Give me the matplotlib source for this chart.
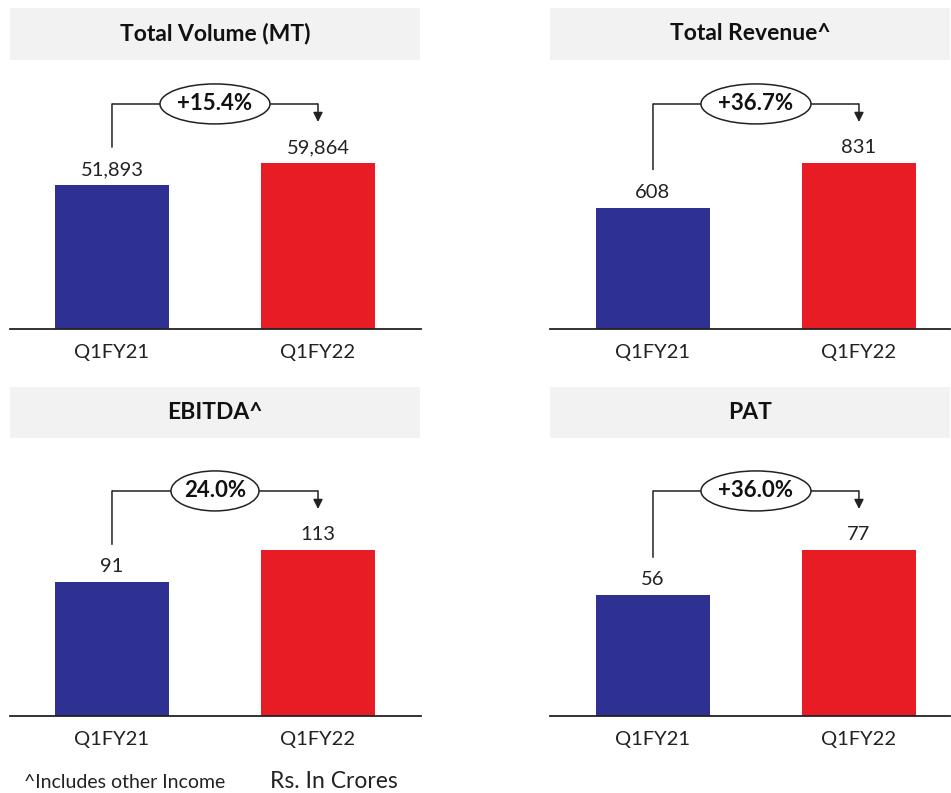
import matplotlib
matplotlib.use("Agg")
import matplotlib.pyplot as plt
from matplotlib.patches import Rectangle, Ellipse
from matplotlib.transforms import offset_copy

plt.rcParams['font.family'] = ['Lato', 'DejaVu Sans']

periods = ["Q1FY21", "Q1FY22"]
titles = ["Total Volume (MT)", "Total Revenue^", "EBITDA^", "PAT"]
volume = [51893, 59864]
revenue = [608, 831]
ebitda = [91, 113]
pat = [56, 77]
growth_labels = ["+15.4%", "+36.7%", "24.0%", "+36.0%"]
series = [volume, revenue, ebitda, pat]

BLUE = "#2e3192"
RED = "#e81c24"
W, H = 951, 793

fig = plt.figure(figsize=(W / 100, H / 100), dpi=100)

# panel geometry in pixels: (axes left, axes right, baseline y, title box x0, x1, y0, y1, xlim)
panels = [
    (10, 421, 329, 10, 420, 8, 60, (-0.495, 1.5)),
    (550, 950, 329, 550, 950, 8, 60, (-0.5, 1.442)),
    (10, 421, 716, 10, 420, 387, 438, (-0.495, 1.5)),
    (550, 950, 716, 550, 950, 387, 438, (-0.5, 1.442)),
]
AX_H = 259

for (x0, x1, base, tx0, tx1, ty0, ty1, xl), title, vals, glabel in zip(panels, titles, series, growth_labels):
    ax = fig.add_axes([x0 / W, (H - base) / H, (x1 - x0) / W, AX_H / H])
    ytop = max(vals) / 0.641
    ax.set_ylim(0, ytop)
    ax.set_xlim(*xl)
    ax.bar([0, 1], vals, width=0.553, color=[BLUE, RED])
    for s in ["top", "right", "left"]:
        ax.spines[s].set_visible(False)
    ax.spines["bottom"].set_linewidth(1.3)
    ax.spines["bottom"].set_color("#222222")
    ax.set_yticks([])
    ax.set_xticks([0, 1])
    ax.set_xticklabels(periods, fontsize=14.5, color="#222222")
    ax.tick_params(axis="x", length=0, pad=11)

    for i, v in enumerate(vals):
        ax.annotate(f"{v:,}", (i, v), xytext=(0, 5), textcoords="offset points",
                    ha="center", va="bottom", fontsize=14.5, color="#222222")

    # growth connector: from above first bar, across, down to second bar
    yline = 0.869 * ytop
    start = offset_copy(ax.transData, fig=fig, x=0, y=38, units="dots")
    ax.annotate("", xy=(0, vals[0]), xycoords=start, xytext=(0, yline), textcoords="data",
                arrowprops=dict(arrowstyle="-", color="#222222", lw=1.1, shrinkA=0, shrinkB=0))
    ax.plot([0, 1], [yline, yline], color="#222222", lw=1.1, solid_capstyle="butt")
    tip = offset_copy(ax.transData, fig=fig, x=0, y=41, units="dots")
    ax.annotate("", xy=(1, vals[1]), xycoords=tip, xytext=(1, yline), textcoords="data",
                arrowprops=dict(arrowstyle="-|>", color="#222222", lw=1.1, mutation_scale=14,
                                shrinkA=0, shrinkB=0))
    ex = 0.5
    ell_w = 110 / 206 if len(glabel) > 5 else 88 / 206
    ax.add_patch(Ellipse((ex, yline), ell_w, 40 / AX_H * ytop, facecolor="white",
                         edgecolor="#222222", lw=1.1, zorder=3, clip_on=False))
    ax.text(ex, yline, glabel, ha="center", va="center", fontsize=16, fontweight="bold",
            color="#111111", zorder=4)

    # title band
    fig.patches.append(Rectangle((tx0 / W, 1 - ty1 / H), (tx1 - tx0) / W, (ty1 - ty0) / H,
                                 transform=fig.transFigure, facecolor="#f2f2f2",
                                 edgecolor="none", zorder=0))
    fig.text((tx0 + tx1) / 2 / W, 1 - (ty0 + ty1) / 2 / H, title, ha="center", va="center",
             fontsize=16.5, fontweight="bold", color="#111111")

fig.text(24 / W, 1 - 783 / H, "^Includes other Income", ha="left", va="center",
         fontsize=14, color="#222222")
fig.text(270 / W, 1 - 781 / H, "Rs. In Crores", ha="left", va="center",
         fontsize=16.5, color="#222222")

fig.savefig("out.png", dpi=100, facecolor="white")
